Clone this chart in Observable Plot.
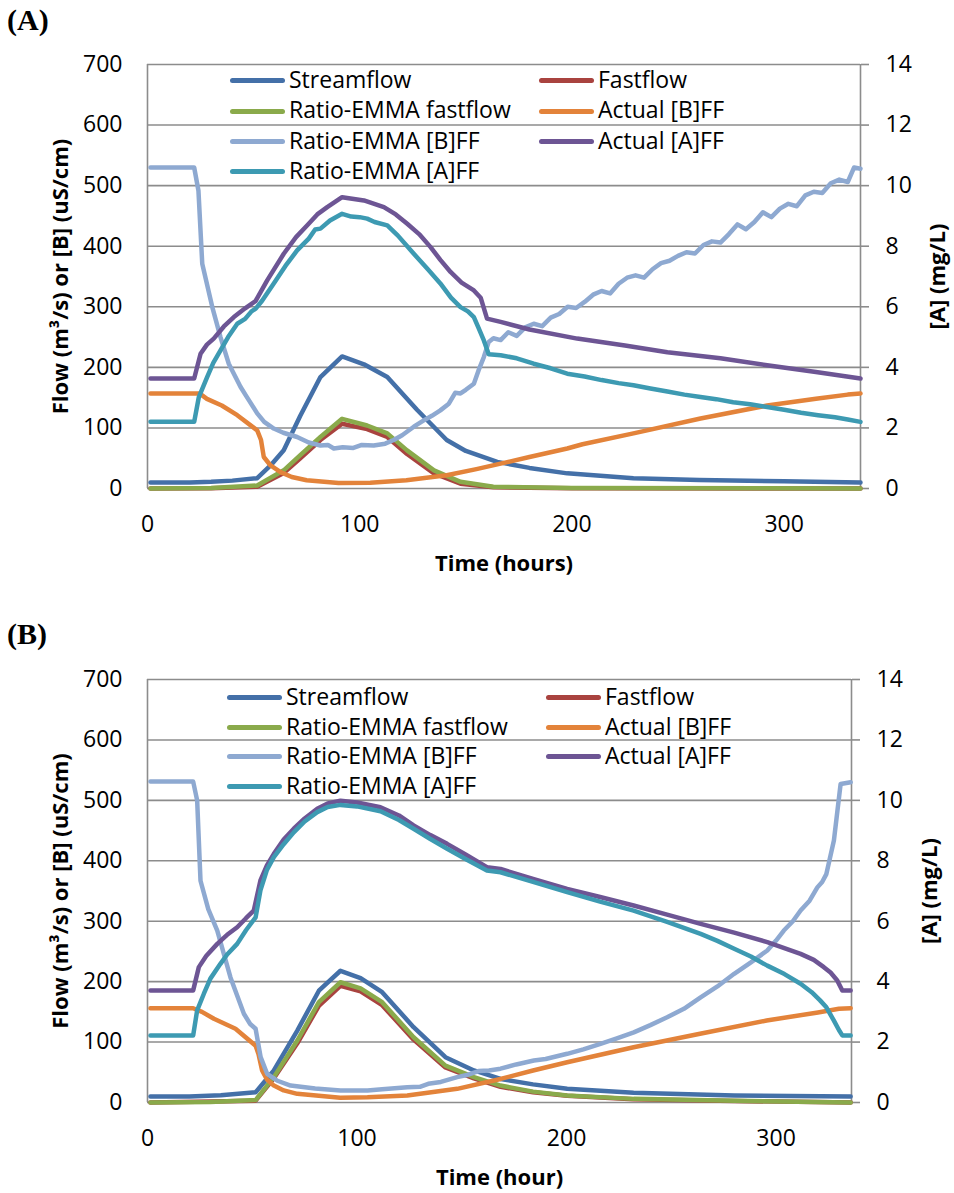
<!DOCTYPE html>
<html>
<head>
<meta charset="utf-8">
<script src="https://cdn.jsdelivr.net/npm/d3@7"></script>
<script src="https://cdn.jsdelivr.net/npm/@observablehq/plot@0.6"></script>
<style>
  html, body { margin: 0; padding: 0; background: #fff; }
  #root { position: relative; width: 954px; height: 1193px; background: #fff; overflow: hidden; }
  .panel { position: absolute; left: 0; }
  .tag { position: absolute; left: 7px; font-family: "Liberation Serif", serif; font-weight: bold; font-size: 30px; line-height: 1; }
  .leg { position: absolute; font-family: "Open Sans", sans-serif; font-size: 23px; line-height: 30px; white-space: nowrap; color: #000; }
  .sw { display: inline-block; width: 55px; height: 5px; border-radius: 3px; vertical-align: middle; margin-right: 4px; position: relative; top: -1px; }
</style>
</head>
<body>
<div id="root"></div>
<script>
// ---------- shared ----------
const seriesNames = ["Streamflow", "Fastflow", "Ratio-EMMA fastflow", "Actual [B]FF", "Ratio-EMMA [B]FF", "Actual [A]FF", "Ratio-EMMA [A]FF"];
const seriesColors = ["#4470A8", "#A9433F", "#8AAA4B", "#E3833A", "#8EA9D1", "#6D5594", "#3D9AB2"];
const xTicks = [0, 100, 200, 300];
const leftTicks = [0, 100, 200, 300, 400, 500, 600, 700];   // Flow (m3/s) or [B] (uS/cm)
const rightTicks = [0, 2, 4, 6, 8, 10, 12, 14];             // [A] (mg/L)
const xMax = 336;

// ---------- Panel A data: [time (h), value] ----------
const A_streamflow = [[1.4,10],[20,10],[30,11],[40,13],[51.7,17],[58,38],[64.2,63],[72,120],[81.5,184],[91.7,218],[102,205],[113,184],[127,130],[141,80],[150,62],[164.8,44],[180,34],[197.8,25],[229,17],[260,14],[300,12],[336,10]];
const A_fastflow = [[1.4,0],[30,0.5],[51.7,3],[64,25],[72,50],[81.5,80],[91.7,107],[103.5,98],[113,85],[122.3,57],[135,25],[147.5,8],[163,2],[200,0.5],[336,0]];
const A_emmaFast = [[1.4,0],[30,1],[51.7,5],[64.2,30],[72,55],[81.5,85],[91.7,115],[103.5,104],[113,91],[122.3,63],[135,30],[147.5,11],[163,3],[200,1],[336,0]];
const A_actualB = [[1.4,157],[24.5,157],[28,148],[35,137],[42.3,121],[51.7,96],[53.5,80],[54.8,52],[58,38],[62.7,27],[68,19],[75,13.7],[90,9],[105,9.5],[122,13.7],[141,22],[155,32],[166.4,41],[180,52],[197.8,66],[205,73],[229,91],[260.6,115.5],[292,137],[315,148],[330,155],[336,157]];
const A_emmaB = [[1.4,530],[22,530],[24,492],[25.8,371],[30.5,300],[34.4,250],[38.3,206],[43.8,168],[47,150],[51.7,124],[55,110],[59.5,99],[64,92],[70.5,85],[76,76],[81.5,71],[85,72],[87.8,66],[92,68],[97,67],[101,72],[106.6,71],[112,74],[116,80],[120,88],[125.5,102],[130,112],[134,120],[138,129],[142,140],[145,158],[147.5,157],[150,163],[153.8,173],[156,195],[158.5,217],[160.8,242],[163,248],[166.4,245],[170,258],[174,252],[178,266],[182,272],[186,268],[190,282],[194,288],[198,300],[202,298],[206,308],[210,320],[214,326],[218,322],[222,338],[226,348],[230,352],[234,348],[238,362],[242,372],[246,376],[250,384],[254,390],[258,388],[262,402],[266,408],[270,406],[274,420],[278,436],[282,428],[286,440],[290,456],[294,448],[298,462],[302,470],[306,466],[310,484],[314,490],[318,488],[322,504],[326,510],[330,506],[333,530],[336,528]];
const A_actualA = [[1.4,3.63],[22,3.63],[25,4.45],[28,4.75],[31.2,4.95],[36,5.35],[40.7,5.66],[46,5.95],[50.9,6.19],[56.4,6.87],[64.2,7.75],[70,8.3],[75.3,8.69],[80,9.05],[84.7,9.29],[91.7,9.62],[102,9.51],[111.4,9.29],[117,9.05],[122.4,8.74],[128,8.4],[133.4,7.97],[138,7.55],[142.8,7.15],[148,6.8],[153.8,6.54],[157,6.3],[160,5.61],[166.4,5.5],[180,5.25],[202.5,4.95],[225,4.72],[245,4.5],[270,4.3],[292,4.07],[315,3.85],[336,3.63]];
const A_emmaA = [[1.4,2.2],[22,2.2],[24.2,3.02],[28.1,3.68],[31,4.15],[34.4,4.56],[38,5.0],[42.3,5.44],[46,5.6],[49,5.85],[51,5.94],[54,6.2],[59.5,6.77],[65,7.35],[70.5,7.86],[76,8.25],[79,8.55],[81.5,8.58],[86,8.85],[91.7,9.07],[96,8.98],[100,8.96],[103.5,8.91],[107,8.8],[113,8.69],[118,8.35],[125.5,7.75],[132,7.25],[138,6.77],[143,6.3],[147.5,5.99],[151,5.85],[153.8,5.66],[156,5.3],[158.5,4.89],[160.8,4.43],[166.4,4.4],[174,4.3],[182,4.12],[190,3.97],[197.8,3.79],[206,3.7],[214,3.58],[222,3.48],[229,3.41],[237,3.3],[245,3.2],[253,3.1],[260.6,3.02],[268,2.95],[276,2.85],[284,2.78],[292,2.69],[300,2.6],[308,2.5],[316,2.42],[324,2.35],[330,2.28],[336,2.2]];

// ---------- Panel B data ----------
const B_streamflow = [[1.4,10],[20,10],[35,12],[51.6,17],[60.3,53],[71.5,119],[81.8,185],[92.1,218],[101.7,206],[112,182.5],[127,124.6],[142.2,75],[155.8,53],[168.5,39],[184,30],[200.3,22.6],[232,16],[280,11.6],[335.6,10]];
const B_fastflow = [[1.4,0],[51.6,3],[60.3,40],[71.5,98],[81.8,160],[92.1,193],[101.7,184],[112,161],[127,104],[142.2,58],[155.8,40],[168.5,26],[184,17],[200.3,11],[232,5.5],[280,2.5],[335.6,0]];
const B_emmaFast = [[1.4,0],[30,1],[51.6,4],[60.3,42],[71.5,102.6],[81.8,166],[92.1,199],[101.7,189],[112,166],[127,108],[142.2,61],[155.8,42],[168.5,28],[184,18],[200.3,11.6],[232,6],[280,2.7],[335.6,0]];
const B_actualB = [[1.4,156],[21.8,156],[26,150],[31.7,138.5],[42,122],[51.6,94],[53,80],[54.7,53],[57,38],[60.3,28],[65,20],[71.5,14.3],[92,8],[105,8.5],[124,11.6],[147.8,22.6],[168.5,39],[184,53],[200.3,66.7],[232,91.5],[263.7,113.7],[295.5,135.7],[320,149],[330,155],[335.6,156]];
const B_emmaB = [[1.4,531],[21.8,531],[23.7,500],[25.3,367],[29,320],[33.3,284.6],[39.6,207],[46,146.8],[49,130],[51.6,122],[54,75],[57.1,47.5],[62,36],[68.3,28],[80,23],[92.1,20],[105,20],[112,22],[124,25.4],[130,26],[134,31],[140,34],[147.8,42],[152,45],[158,52],[163,53],[168.5,56],[176,63],[184.4,69.5],[190,72],[200.3,80.6],[208,88],[216.2,97],[224,106],[232.1,116],[240,128],[248,141],[256,155],[264,174],[272,192],[280,213],[288,232],[295.8,251.5],[300,268],[303.7,284.6],[308,300],[311.7,317.7],[316,334],[319.7,356],[322,365],[324,378],[327.6,433.6],[330.8,527],[335.6,530]];
const B_actualA = [[1.4,3.71],[21.8,3.71],[24.5,4.48],[28,4.85],[33.3,5.25],[38,5.55],[42.8,5.8],[47,6.1],[50.7,6.35],[53.9,7.35],[57,7.85],[60.3,8.23],[65,8.7],[69.8,9.06],[75,9.4],[81,9.72],[86,9.9],[92.1,9.99],[100,9.93],[111.2,9.77],[120,9.5],[127,9.17],[135,8.85],[143,8.56],[152,8.2],[162,7.79],[168.5,7.73],[184,7.4],[200.3,7.07],[216,6.8],[232,6.52],[248,6.22],[264,5.91],[280,5.62],[295.8,5.31],[311.7,4.92],[318,4.72],[322.8,4.48],[326,4.3],[329.2,4.04],[331.6,3.71],[335.6,3.71]];
const B_emmaA = [[1.4,2.22],[21.8,2.22],[23.7,3.05],[26.9,3.6],[30,4.1],[34.8,4.59],[38,4.9],[42.8,5.25],[47,5.7],[51.6,6.13],[53.9,7.02],[57,7.7],[60.3,8.12],[65,8.55],[69.8,8.94],[75,9.3],[81,9.61],[86,9.78],[92.1,9.85],[100,9.8],[111.2,9.64],[120,9.35],[127,9.06],[135,8.72],[143,8.4],[152,8.05],[162,7.68],[168.5,7.62],[184,7.3],[200.3,6.96],[216,6.65],[232,6.35],[248,5.98],[264,5.58],[272,5.35],[280,5.09],[288,4.83],[295.8,4.53],[304,4.25],[311.7,3.93],[317,3.65],[321,3.38],[324,3.15],[327.6,2.71],[330,2.4],[331.6,2.22],[335.6,2.22]];

// ---------- drawing ----------
const ratio = leftTicks[leftTicks.length - 1] / rightTicks[rightTicks.length - 1]; // right -> left scale factor
const root = document.getElementById("root");
const gridColor = "#8c8c8c";

function panel(cfg) {
  const left = [cfg.streamflow, cfg.fastflow, cfg.emmaFast, cfg.actualB, cfg.emmaB];
  const right = [cfg.actualA, cfg.emmaA];
  const lines = [];
  left.forEach((s, i) => lines.push(Plot.line(s, {x: d => d[0], y: d => d[1], stroke: seriesColors[i], strokeWidth: 4.5, strokeLinejoin: "round", strokeLinecap: "round"})));
  right.forEach((s, i) => lines.push(Plot.line(s, {x: d => d[0], y: d => d[1] * ratio, stroke: seriesColors[5 + i], strokeWidth: 4.5, strokeLinejoin: "round", strokeLinecap: "round"})));
  const svg = Plot.plot({
    width: 954, height: cfg.height,
    marginLeft: 147, marginRight: cfg.marginRight, marginTop: cfg.marginTop, marginBottom: cfg.marginBottom,
    x: {domain: [0, xMax]},
    y: {domain: [0, leftTicks[leftTicks.length - 1]]},
    style: {fontFamily: "'Open Sans', sans-serif", fontSize: "23px", color: "#000", background: "#fff", overflow: "visible"},
    marks: [
      Plot.gridY(leftTicks, {stroke: gridColor, strokeOpacity: 1, strokeWidth: 1.6}),
      Plot.ruleX([0, xMax], {stroke: gridColor, strokeWidth: 1.6}),
      Plot.axisY({ticks: leftTicks, tickSize: 0, tickPadding: 25, label: null, fontSize: 23}),
      Plot.axisY({anchor: "right", ticks: rightTicks.map(d => d * ratio), tickFormat: d => d / ratio, tickSize: 8, tickPadding: 17, stroke: gridColor, strokeWidth: 1.6, label: null, fontSize: 23}),
      Plot.axisX({ticks: xTicks, tickSize: 0, tickPadding: 27, label: null, fontSize: 23}),
      ...lines,
      Plot.text([cfg.xTitle], {frameAnchor: "bottom", dy: 75, textAnchor: "middle", lineAnchor: "middle", fontWeight: "bold", fontSize: 22}),
      Plot.text(["Flow (m³/s) or [B] (uS/cm)"], {frameAnchor: "left", dx: -87, rotate: -90, textAnchor: "middle", lineAnchor: "middle", fontWeight: "bold", fontSize: 22}),
      Plot.text(["[A] (mg/L)"], {frameAnchor: "right", dx: cfg.rightTitleDx, rotate: -90, textAnchor: "middle", lineAnchor: "middle", fontWeight: "bold", fontSize: 22})
    ]
  });
  svg.classList.add("panel");
  svg.style.top = cfg.top + "px";
  root.appendChild(svg);

  const tag = document.createElement("div");
  tag.className = "tag";
  tag.textContent = cfg.tag;
  tag.style.top = cfg.tagTop + "px";
  root.appendChild(tag);

  // legend (two columns, row-major)
  seriesNames.forEach((name, i) => {
    const col = i % 2, row = Math.floor(i / 2);
    const item = document.createElement("div");
    item.className = "leg";
    item.style.left = cfg.legX[col] + "px";
    item.style.top = (cfg.legY0 + row * cfg.legDy - 15) + "px";
    const sw = document.createElement("span");
    sw.className = "sw";
    sw.style.background = seriesColors[i];
    item.appendChild(sw);
    item.appendChild(document.createTextNode(name));
    root.appendChild(item);
  });
}

panel({
  tag: "(A)", tagTop: 5, top: 0, height: 595, marginTop: 64, marginBottom: 107, marginRight: 94,
  xTitle: "Time (hours)", rightTitleDx: 77,
  legX: [230, 539], legY0: 79, legDy: 30.3,
  streamflow: A_streamflow, fastflow: A_fastflow, emmaFast: A_emmaFast, actualB: A_actualB, emmaB: A_emmaB, actualA: A_actualA, emmaA: A_emmaA
});
panel({
  tag: "(B)", tagTop: 619, top: 597, height: 596, marginTop: 82, marginBottom: 91, marginRight: 103,
  xTitle: "Time (hour)", rightTitleDx: 78,
  legX: [227, 546], legY0: 696, legDy: 29.5,
  streamflow: B_streamflow, fastflow: B_fastflow, emmaFast: B_emmaFast, actualB: B_actualB, emmaB: B_emmaB, actualA: B_actualA, emmaA: B_emmaA
});
</script>
</body>
</html>
